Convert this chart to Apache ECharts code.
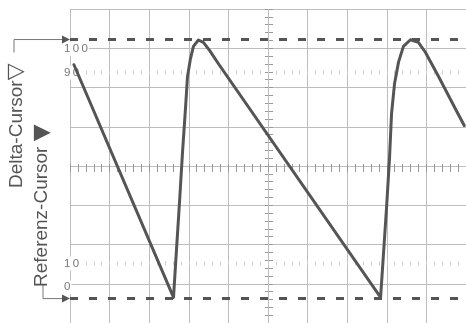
<!DOCTYPE html>
<html><head><meta charset="utf-8">
<script src="https://cdn.jsdelivr.net/npm/echarts@6/dist/echarts.min.js"></script>
<style>html,body{margin:0;padding:0;background:#fff}#c{width:466px;height:323px}</style>
</head><body><div id="c"></div>
<script>
// horizontal position in screen divisions (0..10), level in percent
const waveX = [0.1, 2.614, 2.69, 2.765, 2.84, 2.916, 2.966, 3.04, 3.117, 3.243, 3.368, 3.52, 3.77,
               7.843, 7.919, 7.994, 8.069, 8.12, 8.195, 8.296, 8.42, 8.597, 8.798, 8.974, 9.30, 9.728, 9.955];
const wavePct = [93, -5.8, 14.7, 34.5, 55.5, 74.4, 87.8, 95.4, 100.8, 103.5, 102.5, 99.2, 92.9,
                 -5.8, 13.4, 32.4, 53.4, 72.3, 84.9, 94.1, 100.8, 103.6, 102.5, 98.3, 88.2, 74.4, 67.2];
const cursorLevels = [103.7, -6.3];          // Delta-Cursor, Referenz-Cursor
const cursorNames = ['Delta-Cursor', 'Referenz-Cursor'];
const cursorMarks = ['\u25BD', '\u25BC'];
const guideLevels = [90, 10];
const tickLabels = [0, 10, 90, 100];

const G = {left: 70, top: 9, width: 398, height: 318};
const pctMin = -100 / 6, pctMax = 100 + 100 / 6;
const yOfPct = p => G.top + G.height * (pctMax - p) / (pctMax - pctMin);

const gridCol = '#bdbdbd', ink = '#555', font = '"Liberation Sans", Arial, Helvetica, sans-serif';
const hid = {axisLine: {show: false}, axisTick: {show: false}, axisLabel: {show: false}, splitLine: {show: false}};

const grids = [], xAxes = [], yAxes = [];
function addGrid(rect, x, y) {
  const i = grids.length;
  grids.push(Object.assign({}, rect));
  xAxes.push(Object.assign({type: 'value', gridIndex: i, min: 0, max: 10, interval: 1}, hid, x || {}));
  yAxes.push(Object.assign({type: 'value', gridIndex: i, min: -4, max: 4, interval: 1}, hid, y || {}));
}
const split = c => ({show: true, lineStyle: {color: c, width: 1}});
// 0: main grid (data), vertical grid lines
addGrid(G, {splitLine: split(gridCol)}, {min: pctMin, max: pctMax, interval: null});
// 1: horizontal grid lines
addGrid(G, {}, {splitLine: split(gridCol)});
// 2: center horizontal ticks
addGrid({left: G.left, width: G.width, top: G.top + G.height / 2 - 4, height: 8},
  {splitLine: split('#999'), minorTick: {show: false, splitNumber: 5}, minorSplitLine: split('#999')});
// 3: center vertical ticks
addGrid({left: G.left + G.width / 2 - 4, width: 8, top: G.top, height: G.height}, {},
  {splitLine: split('#999'), minorTick: {show: false, splitNumber: 5}, minorSplitLine: split('#999')});
// 4,5: dotted 90% / 10% guide lines
guideLevels.forEach(g => addGrid({left: G.left, width: G.width, top: yOfPct(g) - 2, height: 4},
  {splitLine: split('#cfcfcf'), minorTick: {show: false, splitNumber: 5}, minorSplitLine: split('#cfcfcf')}));
// 6: percent labels
addGrid({left: 62, width: 1, top: yOfPct(100), height: yOfPct(0) - yOfPct(100)}, {},
  {min: 0, max: 100, interval: 10, z: 3,
   axisLabel: {show: true, inside: true, margin: 1, customValues: tickLabels,
     formatter: v => String(v).split('').join('\u2009'),
     color: '#777', fontSize: 11.5, fontFamily: font, backgroundColor: '#fff', padding: [1, 1]}});

const chart = echarts.init(document.getElementById('c'), null, {renderer: 'canvas'});
chart.setOption({
  animation: false,
  backgroundColor: '#fff',
  grid: grids, xAxis: xAxes, yAxis: yAxes,
  series: [{
    type: 'line', xAxisIndex: 0, yAxisIndex: 0, showSymbol: false, z: 5,
    data: waveX.map((x, i) => [x, wavePct[i]]),
    lineStyle: {color: ink, width: 3, join: 'round', cap: 'round'},
    markLine: {
      silent: true, symbol: ['none', 'none'], label: {show: false},
      lineStyle: {color: ink, width: 3, type: [8, 11]},
      data: cursorLevels.map(v => ({yAxis: v}))
    }
  }]
});

const yTop = chart.convertToPixel({xAxisIndex: 0, yAxisIndex: 0}, [0, cursorLevels[0]])[1];
const yBot = chart.convertToPixel({xAxisIndex: 0, yAxisIndex: 0}, [0, cursorLevels[1]])[1];
const x0 = chart.convertToPixel({xAxisIndex: 0, yAxisIndex: 0}, [0, 0])[0];
const arrow = y => ({type: 'polygon', shape: {points: [[x0 - 8, y - 4], [x0, y], [x0 - 8, y + 4]]}, style: {fill: ink}, z: 20});
const rich = {
  t: {fontSize: 19, fontFamily: font, color: ink},
  m: {fontSize: 22, fontFamily: '"DejaVu Sans", sans-serif', color: ink}
};
const label = (i, x, y, sep) => ({type: 'text', x: x, y: y, rotation: Math.PI / 2, z: 20,
  style: {text: '{t|' + cursorNames[i] + sep + '}{m|' + cursorMarks[i] + '}', rich: rich,
          fill: ink, align: 'left', verticalAlign: 'middle'}});
chart.setOption({
  graphic: [
    {type: 'polyline', shape: {points: [[14, yTop + 13], [14, yTop], [x0 - 8, yTop]]}, style: {stroke: '#777', lineWidth: 1, fill: null}, z: 20},
    {type: 'polyline', shape: {points: [[43, yBot - 14], [43, yBot], [x0 - 8, yBot]]}, style: {stroke: '#777', lineWidth: 1, fill: null}, z: 20},
    arrow(yTop), arrow(yBot),
    label(0, 16.5, 188, ''),
    label(1, 42, 287, ' ')
  ]
});
</script></body></html>
